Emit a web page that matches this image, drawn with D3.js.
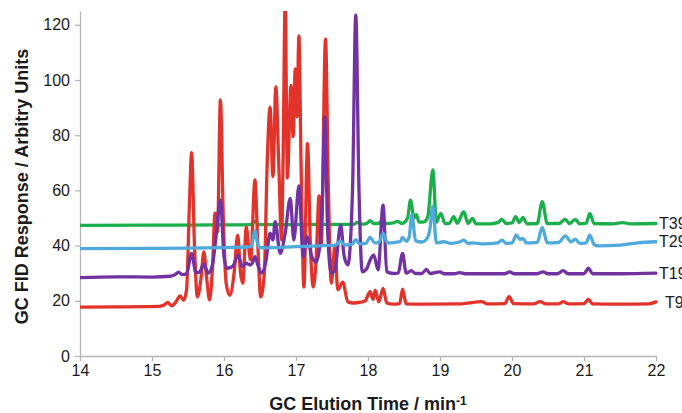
<!DOCTYPE html>
<html>
<head>
<meta charset="utf-8">
<script src="https://cdn.jsdelivr.net/npm/d3@7/dist/d3.min.js"></script>
<style>
  html, body { margin: 0; padding: 0; background: #fff; }
  svg { display: block; font-family: "Liberation Sans", Arial, sans-serif; }
</style>
</head>
<body>
<svg id="chart" width="682" height="413"></svg>
<script>
// GC-FID chromatograms: [elution time (min), detector response]
const seriesT9 = [
  [14.0,17.7],[14.5,17.8],[14.9,17.9],[15.1,18.0],[15.17,18.5],[15.22,19.4],[15.27,18.2],[15.33,19.5],
  [15.39,21.8],[15.44,20.2],[15.48,24],[15.52,55],[15.55,73.7],[15.59,40],[15.63,21.4],[15.68,28],
  [15.72,37.7],[15.76,28],[15.80,20.3],[15.84,32],[15.875,51.8],[15.91,45],[15.95,92.8],[15.99,50],
  [16.03,26.4],[16.08,22],[16.14,30],[16.19,43.8],[16.23,30],[16.26,26.4],[16.31,46.7],[16.34,40],
  [16.37,34.8],[16.43,63.8],[16.47,40],[16.51,21.4],[16.56,30],[16.60,70],[16.64,90.2],[16.68,65],
  [16.72,97.5],[16.76,70],[16.80,42],[16.82,70],[16.85,128],[16.88,64.5],[16.93,98],[16.96,79.5],
  [16.99,104],[17.015,86.7],[17.04,116],[17.07,70],[17.11,25],[17.16,77],[17.20,40],[17.24,25],
  [17.28,35],[17.32,58],[17.35,40],[17.41,114.8],[17.45,60],[17.49,26.4],[17.54,39.5],[17.58,24],
  [17.65,26.8],[17.72,19.6],[17.8,19.2],[17.9,19.5],[17.96,20],[18.03,23.3],[18.07,20.5],[18.1,23.9],
  [18.15,19.6],[18.21,24.5],[18.26,19.2],[18.35,18.8],[18.44,19],[18.48,24.2],[18.53,18.9],[18.8,18.8],
  [19.3,18.9],[19.58,19.7],[19.65,18.9],[19.9,19],[19.96,21.5],[20.02,19],[20.3,18.9],[20.39,19.7],
  [20.47,18.9],[20.65,18.9],[20.71,19.7],[20.78,18.9],[21.0,19],[21.06,20.5],[21.12,18.9],[21.5,18.8],
  [21.9,18.9],[22.0,19.6]
];

const seriesT19 = [
  [14,28.4],[14.5,28.7],[15.0,28.6],[15.25,28.9],[15.32,29.5],[15.37,30.4],[15.42,29.5],[15.48,29.8],
  [15.55,37.2],[15.61,30.2],[15.66,30.4],[15.72,33.3],[15.78,30],[15.84,33],[15.88,41],[15.95,56.5],
  [16.0,36],[16.04,31.8],[16.12,32.5],[16.2,36.6],[16.25,32.4],[16.31,33.6],[16.36,33],[16.40,34],
  [16.43,36],[16.47,33],[16.52,30],[16.58,34],[16.64,44.5],[16.68,42],[16.71,48.7],[16.78,37.2],
  [16.85,44.5],[16.92,57.1],[16.97,42],[17.04,61.6],[17.1,36],[17.15,43.2],[17.22,36],[17.28,34],
  [17.33,40],[17.37,60],[17.40,86.7],[17.44,45],[17.49,30],[17.54,31],[17.62,47.5],[17.67,36],
  [17.72,33],[17.785,60],[17.83,123.5],[17.875,60],[17.92,30.5],[17.98,31.5],[18.03,34.8],[18.08,36.6],
  [18.14,31.2],[18.21,54.7],[18.26,30.5],[18.35,29.9],[18.42,30],[18.48,37.2],[18.53,30],[18.6,30.9],
  [18.66,29.9],[18.75,29.9],[18.81,31.4],[18.86,29.9],[19.0,30.5],[19.06,29.8],[19.2,29.8],[19.27,30.2],
  [19.35,29.8],[19.9,29.8],[19.97,30.5],[20.03,29.8],[20.35,29.8],[20.43,30.5],[20.5,29.8],[20.63,29.8],
  [20.71,30.9],[20.78,29.8],[21.0,29.8],[21.06,31.8],[21.12,29.8],[21.5,29.8],[22,30]
];

const seriesT29 = [
  [14,38.9],[15.0,39.0],[15.5,39.1],[16.0,39.3],[16.3,39.5],[16.38,39.6],[16.43,45.4],[16.48,39.4],
  [16.6,39.2],[17.0,39.6],[17.4,40.0],[17.55,40.2],[17.62,41.6],[17.68,40.2],[17.78,40.5],[17.83,42.2],
  [17.88,40.6],[17.97,40.8],[18.03,43],[18.09,41],[18.15,41.2],[18.21,44.4],[18.27,41],[18.38,41.2],
  [18.45,41.5],[18.48,43],[18.53,41.6],[18.57,43],[18.61,51.1],[18.66,41.8],[18.75,41.3],[18.81,42.2],
  [18.86,46],[18.9,54.3],[18.95,41],[19.05,41.4],[19.15,40.8],[19.27,41.3],[19.33,42],[19.39,40.8],
  [19.45,41],[19.6,40.6],[19.8,41],[19.86,42],[19.92,40.8],[20.0,41],[20.06,43.8],[20.11,42.2],
  [20.15,42.6],[20.2,41],[20.35,41.2],[20.42,46.6],[20.49,41],[20.65,41.2],[20.74,43.5],[20.82,41.4],
  [20.88,42.3],[20.94,40.8],[21.03,41],[21.08,43.8],[21.14,40.4],[21.2,39.9],[21.5,40.2],[21.75,41],
  [22,41.4]
];

const seriesT39 = [
  [14,47.3],[15,47.4],[16,47.5],[16.38,47.6],[16.43,48.8],[16.48,47.6],[17,47.6],[17.5,47.7],
  [17.8,47.7],[17.85,48.4],[17.9,47.8],[17.98,48],[18.03,49],[18.08,48],[18.15,48.1],[18.2,49.3],
  [18.25,48],[18.35,48.2],[18.41,48.8],[18.47,48],[18.55,50],[18.59,56.5],[18.64,50],[18.67,51.2],
  [18.71,48.5],[18.78,48.6],[18.83,50.5],[18.9,67.4],[18.95,48.5],[19.01,51.7],[19.07,48],[19.13,48.1],
  [19.19,50.5],[19.24,48.1],[19.33,52.3],[19.39,48],[19.45,49.9],[19.5,47.9],[19.7,47.9],[19.8,48.3],
  [19.86,49.5],[19.92,48],[20.0,48.2],[20.05,50.5],[20.1,48.3],[20.15,50.2],[20.21,47.9],[20.35,48],
  [20.42,55.9],[20.49,48],[20.65,48],[20.74,49.5],[20.8,48],[20.88,49.5],[20.94,47.9],[21.03,48.1],
  [21.08,51.7],[21.14,48],[21.4,47.9],[21.54,48.3],[21.65,47.9],[22,48]
];

const seriesNames = ["T39", "T9", "T19", "T29"];
const seriesColors = ["#1aaf4b", "#e2332a", "#7232a2", "#4fa9db"];
const seriesData = [seriesT39, seriesT9, seriesT19, seriesT29];

const xTicks = [14, 15, 16, 17, 18, 19, 20, 21, 22];
const yTicks = [0, 20, 40, 60, 80, 100, 120];

const svg = d3.select("#chart");
const margin = { left: 80, right: 26, top: 11, bottom: 57 };
const W = 682, H = 413;

const x = d3.scaleLinear().domain([14, 22]).range([margin.left, W - margin.right]);
const y = d3.scaleLinear().domain([0, 125]).range([H - margin.bottom, margin.top]);

// plot clip
svg.append("defs").append("clipPath").attr("id", "plotClip")
  .append("rect")
  .attr("x", margin.left).attr("y", margin.top)
  .attr("width", W - margin.left - margin.right + 30)
  .attr("height", H - margin.bottom - margin.top);

// axes
const axisColor = "#b5b5b5";
const xAxis = svg.append("g")
  .attr("transform", `translate(0,${y(0)})`)
  .call(d3.axisBottom(x).tickValues(xTicks).tickSize(5).tickSizeOuter(0).tickPadding(4));
const yAxis = svg.append("g")
  .attr("transform", `translate(${margin.left},0)`)
  .call(d3.axisLeft(y).tickValues(yTicks).tickSize(5).tickSizeOuter(0).tickPadding(5));

[xAxis, yAxis].forEach(g => {
  g.select(".domain").attr("stroke", axisColor).attr("stroke-width", 1.3);
  g.selectAll(".tick line").attr("stroke", axisColor).attr("stroke-width", 1.3);
  g.selectAll(".tick text")
    .attr("fill", "#1a1a1a")
    .style("font-size", "16px")
    .style("font-family", "'Liberation Sans', Arial, sans-serif");
});

// traces
const line = d3.line()
  .x(d => x(d[0]))
  .y(d => y(d[1]))
  .curve(d3.curveMonotoneX);

const traces = svg.append("g").attr("clip-path", "url(#plotClip)");
seriesData.forEach((data, i) => {
  traces.append("path")
    .datum(data)
    .attr("fill", "none")
    .attr("stroke", seriesColors[i])
    .attr("stroke-width", 3.3)
    .attr("stroke-linejoin", "round")
    .attr("stroke-linecap", "round")
    .attr("d", line);
});

// series labels at the right end of each trace
const labelOffsetX = { T39: 3, T29: 3, T19: 3, T9: 9 };
seriesData.forEach((data, i) => {
  const last = data[data.length - 1];
  svg.append("text")
    .attr("x", x(last[0]) + labelOffsetX[seriesNames[i]])
    .attr("y", y(last[1]))
    .attr("dy", "0.36em")
    .attr("fill", "#1a1a1a")
    .style("font-size", "16px")
    .text(seriesNames[i]);
});

// axis titles
svg.append("text")
  .attr("x", (x(14) + x(22)) / 2)
  .attr("y", 410)
  .attr("text-anchor", "middle")
  .attr("fill", "#1a1a1a")
  .style("font-size", "18px")
  .style("font-weight", "bold")
  .call(t => {
    t.append("tspan").text("GC Elution Time / min");
    t.append("tspan").attr("dy", "-0.45em").style("font-size", "12px").text("-1");
  });

svg.append("text")
  .attr("transform", `translate(28,${(y(0) + y(125)) / 2 + 3}) rotate(-90)`)
  .attr("text-anchor", "middle")
  .attr("fill", "#1a1a1a")
  .style("font-size", "18px")
  .style("font-weight", "bold")
  .text("GC FID Response / Arbitry Units");
</script>
</body>
</html>
